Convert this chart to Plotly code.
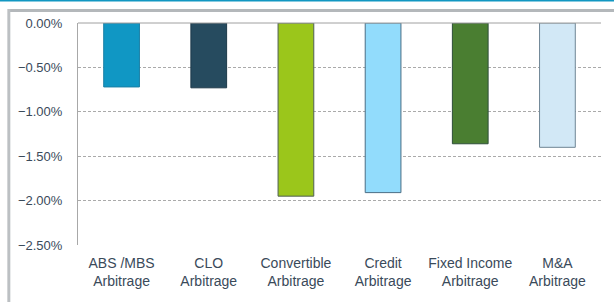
import plotly.graph_objects as go

categories = ["ABS /MBS<br>Arbitrage", "CLO<br>Arbitrage", "Convertible<br>Arbitrage",
              "Credit<br>Arbitrage", "Fixed Income<br>Arbitrage", "M&A<br>Arbitrage"]
values = [-0.0072, -0.0073, -0.0195, -0.0191, -0.0136, -0.0140]
bar_colors = ["#1097C4", "#264B5F", "#9BC61B", "#92DCFC", "#4A7E31", "#D2E8F6"]
edge_colors = ["#1A7FA5", "#1E3A4A", "#4F5F55", "#4A6E85", "#2E4F3A", "#6F8594"]
tick_vals = [0, -0.005, -0.01, -0.015, -0.02, -0.025]

fig = go.Figure(go.Bar(
    x=categories, y=values,
    marker=dict(color=bar_colors, line=dict(color=edge_colors, width=1)),
    width=0.41,
))

yfont = dict(family="Liberation Sans, Arial, sans-serif", size=13, color="#3A4A5A")
xfont = dict(family="Liberation Sans, Arial, sans-serif", size=14, color="#3A4A5A")

fig.update_layout(
    width=614, height=302,
    margin=dict(l=78, r=13, t=23, b=57),
    paper_bgcolor="white", plot_bgcolor="white",
    showlegend=False,
    font=yfont,
    xaxis=dict(showgrid=False, showline=False, ticks="", tickfont=xfont,
               ticklabelstandoff=8, automargin=False),
    yaxis=dict(range=[-0.025, 0], tickvals=tick_vals, tickformat=".2%",
               showgrid=True, gridcolor="#AAAAAA", griddash="3px,2px", gridwidth=1,
               zeroline=False, showline=True, linecolor="#A8A8A8", linewidth=1,
               ticks="", ticklabelstandoff=12, tickfont=yfont, automargin=False),
    shapes=[
        dict(type="rect", xref="paper", yref="paper", x0=-0.132, x1=1.1, y0=1.0495, y1=1.0631,
             line=dict(width=0), fillcolor="#B4B8BB", layer="above"),
        dict(type="rect", xref="paper", yref="paper", x0=-0.1351, x1=-0.1294, y0=-0.3, y1=1.0631,
             line=dict(width=0), fillcolor="#BCC0C3", layer="above"),
        dict(type="rect", xref="paper", yref="paper", x0=-0.2, x1=1.1, y0=1.097, y1=1.12,
             line=dict(width=0), fillcolor="#1297C2", layer="above"),
        dict(type="line", xref="paper", yref="paper", x0=0, x1=1, y0=1, y1=1,
             line=dict(color="#A0A0A0", width=1)),
    ],
)

fig.write_html("out.html", config={"displayModeBar": False},
               post_script="document.body.style.margin='0';")
